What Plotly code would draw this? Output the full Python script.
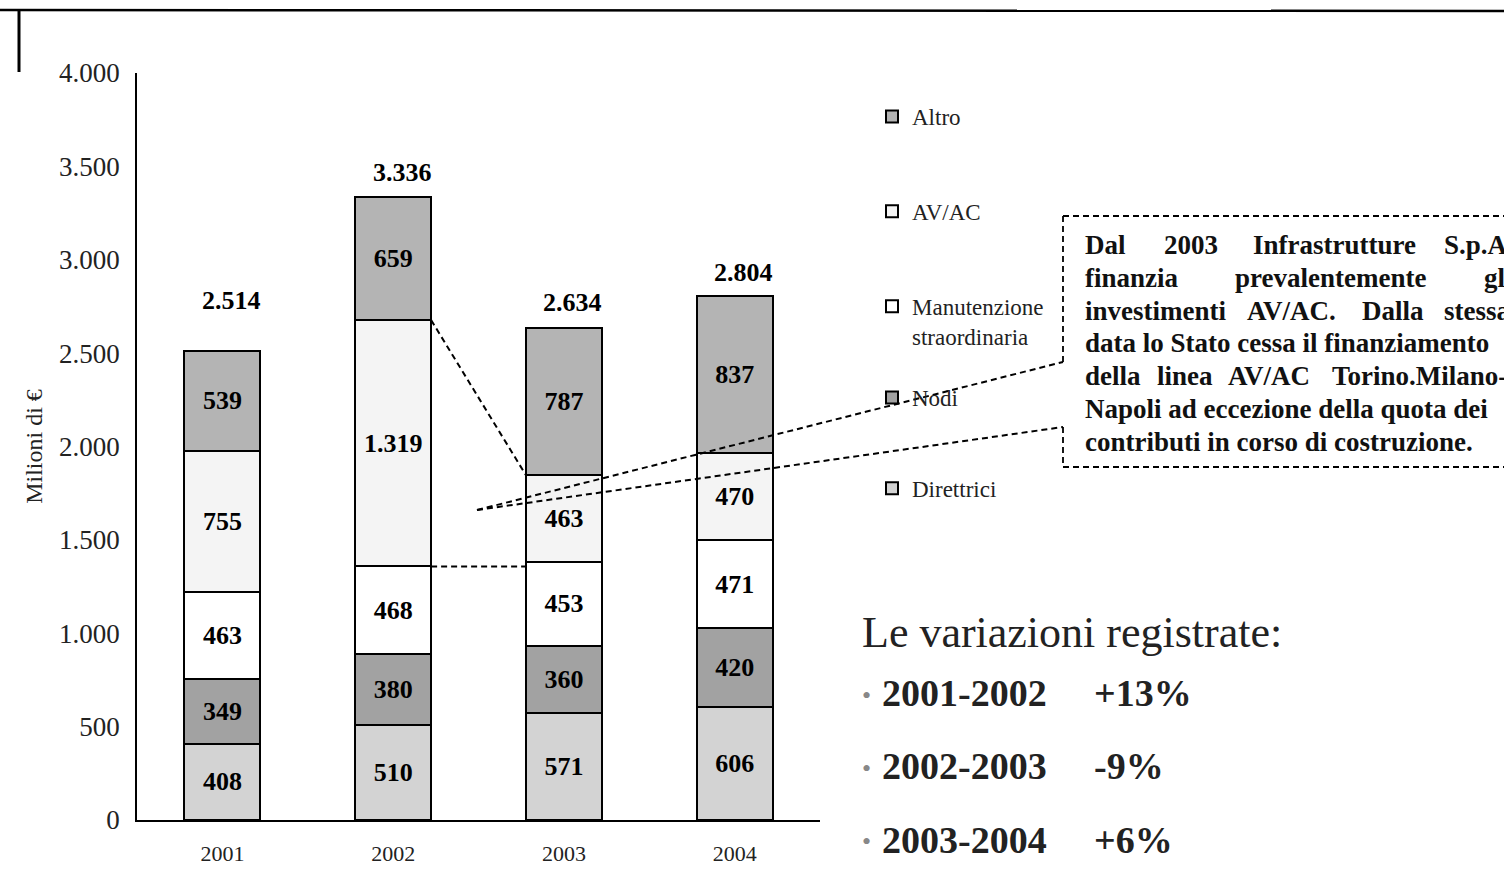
import plotly.graph_objects as go

# ---------------- data ----------------
years = ["2001", "2002", "2003", "2004"]
series_names = ["Direttrici", "Nodi", "Manutenzione<br>straordinaria", "AV/AC", "Altro"]
direttrici = [408, 510, 571, 606]
nodi = [349, 380, 360, 420]
manutenzione = [463, 468, 453, 471]
avac = [755, 1319, 463, 470]
altro = [539, 659, 787, 837]
totals = [2514, 3336, 2634, 2804]
y_ticks = [0, 500, 1000, 1500, 2000, 2500, 3000, 3500, 4000]

periods = ["2001-2002", "2002-2003", "2003-2004"]
variations = ["+13%", "-9%", "+6%"]

note_lines = [
    ["Dal", "2003", "Infrastrutture", "S.p.A."],
    ["finanzia", "prevalentemente", "gli"],
    ["investimenti", "AV/AC.", "Dalla", "stessa"],
    ["data lo Stato cessa il finanziamento"],
    ["della", "linea", "AV/AC", "Torino.Milano-"],
    ["Napoli ad eccezione della quota dei"],
    ["contributi in corso di costruzione."],
]

# ---------------- style ----------------
colors = ["#d3d3d3", "#a2a2a2", "#ffffff", "#f4f4f4", "#b4b4b4"]
legend_of = ["legend2", "legend2", "legend", "legend", "legend"]
legend_rank = [5, 4, 3, 2, 1]
SERIF = "Liberation Serif"
W, H = 1504, 869
L, R, T, B = 137, 820, 73, 820  # plot area in pixels
BAR_W = 0.445


def px(x):
    return (x - L) / (R - L)


def py(y):
    return (B - y) / (B - T)


fig = go.Figure()
values = [direttrici, nodi, manutenzione, avac, altro]
for i, (name, vals) in enumerate(zip(series_names, values)):
    fig.add_trace(go.Bar(
        x=years, y=vals, name=name,
        legend=legend_of[i], legendgroup=f"g{i}", legendrank=legend_rank[i],
        marker=dict(color=colors[i], line=dict(color="black", width=2)),
        width=BAR_W,
        texttemplate="%{y:,.0f}",
        textposition="inside",
        insidetextanchor="middle",
        textangle=0,
        constraintext="none",
        textfont=dict(family=SERIF, size=26, color="black", weight="bold"),
        hoverinfo="skip",
    ))

# totals above bars (x given as category index)
total_yshift = [50, 25, 26, 24]
for idx, (tot, ys) in enumerate(zip(totals, total_yshift)):
    fig.add_annotation(
        xref="x", yref="y", x=idx, y=tot,
        text=f"{tot:,}".replace(",", "."), showarrow=False,
        yshift=ys, xshift=9, yanchor="middle",
        font=dict(family=SERIF, size=26, color="black", weight="bold"),
    )

shapes = []
# frame at top of page
shapes.append(dict(type="line", xref="paper", yref="paper",
                   x0=px(0), x1=px(W), y0=py(10), y1=py(11),
                   line=dict(color="black", width=2.5)))
shapes.append(dict(type="line", xref="paper", yref="paper",
                   x0=px(19), x1=px(19), y0=py(10), y1=py(72),
                   line=dict(color="black", width=3)))

# dashed lines linking AV/AC 2002 to AV/AC 2003
top02 = direttrici[1] + nodi[1] + manutenzione[1] + avac[1]
bot02 = direttrici[1] + nodi[1] + manutenzione[1]
top03 = direttrici[2] + nodi[2] + manutenzione[2] + avac[2]
dash = "6px,4px"
x_right02 = 1 + BAR_W / 2
x_left03 = 2 - BAR_W / 2
shapes.append(dict(type="line", xref="x", yref="y", x0=x_right02, x1=x_left03,
                   y0=top02, y1=top03, line=dict(color="black", width=2, dash=dash)))
shapes.append(dict(type="line", xref="x", yref="y", x0=x_right02, x1=x_left03,
                   y0=bot02, y1=bot02, line=dict(color="black", width=2, dash=dash)))

# callout box
bx = 1063
shapes.append(dict(type="line", xref="paper", yref="paper", x0=px(bx), x1=px(W + 20),
                   y0=py(216), y1=py(216), line=dict(color="black", width=1.8, dash=dash)))
shapes.append(dict(type="line", xref="paper", yref="paper", x0=px(bx), x1=px(W + 20),
                   y0=py(467), y1=py(467), line=dict(color="black", width=1.8, dash=dash)))
shapes.append(dict(type="line", xref="paper", yref="paper", x0=px(bx), x1=px(bx),
                   y0=py(216), y1=py(362), line=dict(color="black", width=1.8, dash=dash)))
shapes.append(dict(type="line", xref="paper", yref="paper", x0=px(bx), x1=px(bx),
                   y0=py(427), y1=py(467), line=dict(color="black", width=1.8, dash=dash)))
shapes.append(dict(type="line", xref="paper", yref="paper", x0=px(477), x1=px(bx),
                   y0=py(510), y1=py(362), line=dict(color="black", width=2, dash=dash)))
shapes.append(dict(type="line", xref="paper", yref="paper", x0=px(477), x1=px(bx),
                   y0=py(510), y1=py(427), line=dict(color="black", width=2, dash=dash)))

# note text (justified-looking by placing words)
word_x = [
    [1083, 1162, 1251, 1442],
    [1083, 1233, 1482],
    [1083, 1245, 1360, 1442],
    [1083],
    [1083, 1155, 1226, 1330],
    [1083],
    [1083],
]
line_y = [245, 278, 311, 343, 376, 409, 442]
for words, xs, yy in zip(note_lines, word_x, line_y):
    for w, xx in zip(words, xs):
        fig.add_annotation(
            xref="paper", yref="paper", x=px(xx), y=py(yy), text=w,
            showarrow=False, xanchor="left", yanchor="middle",
            font=dict(family=SERIF, size=27, color="#111", weight="bold"),
        )

# variations block
fig.add_annotation(xref="paper", yref="paper", x=px(860), y=py(632),
                   text="Le variazioni registrate:", showarrow=False,
                   xanchor="left", yanchor="middle",
                   font=dict(family=SERIF, size=44, color="#222"))
for per, var, yy in zip(periods, variations, [693, 766, 840]):
    fig.add_annotation(xref="paper", yref="paper", x=px(866), y=py(yy + 2),
                       text="•", showarrow=False, xanchor="center", yanchor="middle",
                       font=dict(family=SERIF, size=26, color="#888"))
    fig.add_annotation(xref="paper", yref="paper", x=px(880), y=py(yy),
                       text=per, showarrow=False, xanchor="left", yanchor="middle",
                       font=dict(family=SERIF, size=38, color="#222", weight="bold"))
    fig.add_annotation(xref="paper", yref="paper", x=px(1092), y=py(yy),
                       text=var, showarrow=False, xanchor="left", yanchor="middle",
                       font=dict(family=SERIF, size=38, color="#222", weight="bold"))

legend_common = dict(
    xanchor="left", yanchor="top", traceorder="grouped", valign="top",
    font=dict(family=SERIF, size=23, color="#222"),
    bgcolor="rgba(0,0,0,0)", itemclick=False, itemdoubleclick=False,
)

fig.update_layout(
    width=W, height=H,
    margin=dict(l=L, r=W - R, t=T, b=H - B, autoexpand=False),
    paper_bgcolor="white", plot_bgcolor="white",
    barmode="stack",
    separators=",.",
    shapes=shapes,
    showlegend=True,
    legend=dict(x=px(872), y=py(95), tracegroupgap=62, **legend_common),
    legend2=dict(x=px(872), y=py(376), tracegroupgap=58, **legend_common),
    xaxis=dict(
        type="category", range=[-0.5, 3.5], autorange=False,
        showline=True, linecolor="black", linewidth=1.5,
        showgrid=False, ticks="", ticklabelstandoff=13,
        tickfont=dict(family=SERIF, size=22, color="#222"),
    ),
    yaxis=dict(
        range=[0, 4000], autorange=False, tickvals=y_ticks, tickformat=",.0f",
        showline=True, linecolor="black", linewidth=1.5,
        showgrid=False, zeroline=False, ticks="", ticklabelstandoff=10,
        tickfont=dict(family=SERIF, size=27, color="#222"),
        title=dict(text="Milioni di €", standoff=10,
                   font=dict(family=SERIF, size=24, color="#222")),
    ),
)

fig.write_html("out.html", config={"displayModeBar": False},
               post_script="document.body.style.margin='0px';")
